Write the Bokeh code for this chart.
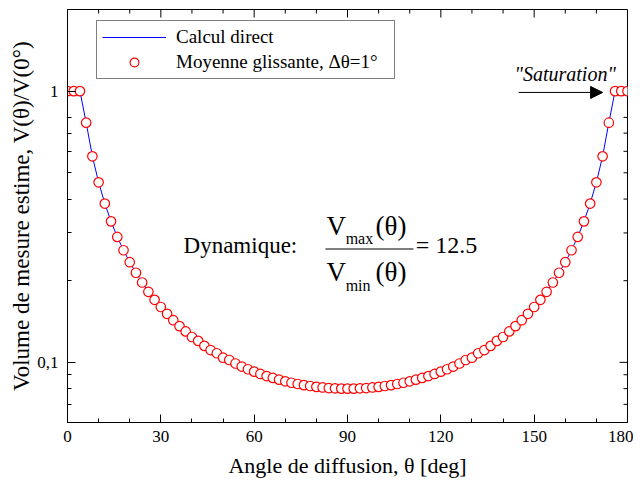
from bokeh.plotting import figure
from bokeh.models import FixedTicker, Label, Arrow, NormalHead, Legend, LegendItem, Range1d
from bokeh.embed import file_html
from bokeh.resources import INLINE
import math

# ---- data ----
theta = list(range(0, 181, 2))
volume = [1.0, 1.0, 1.0, 0.765, 0.575, 0.461, 0.385, 0.331, 0.290, 0.259,
          0.234, 0.214, 0.197, 0.182, 0.170, 0.160, 0.151, 0.143, 0.136, 0.130,
          0.124, 0.120, 0.115, 0.111, 0.108, 0.104, 0.102, 0.099, 0.0965, 0.0943,
          0.0924, 0.0906, 0.0890, 0.0876, 0.0863, 0.0851, 0.0841, 0.0832, 0.0824, 0.0818,
          0.0812, 0.0808, 0.0804, 0.0802, 0.0800, 0.0800,
          0.0800, 0.0802, 0.0804, 0.0808, 0.0812, 0.0818, 0.0824, 0.0832, 0.0841, 0.0851,
          0.0863, 0.0876, 0.0890, 0.0906, 0.0924, 0.0943, 0.0965, 0.099, 0.102, 0.104,
          0.108, 0.111, 0.115, 0.120, 0.124, 0.130, 0.136, 0.143, 0.151, 0.160,
          0.170, 0.182, 0.197, 0.214, 0.234, 0.259, 0.290, 0.331, 0.385, 0.461,
          0.575, 0.765, 1.0, 1.0, 1.0]

x_major = [0, 30, 60, 90, 120, 150, 180]
x_minor = [10, 20, 40, 50, 70, 80, 100, 110, 130, 140, 160, 170]
y_major = [0.1, 1]
y_minor = [0.07, 0.08, 0.09, 0.2, 0.3, 0.4, 0.5, 0.6, 0.7, 0.8]
y_labels = {0.1: "0,1", 1: "1"}

FONT = "Liberation Serif"
X0, X1, Y0, Y1 = 0, 180, 0.06, 2.0
FRAME_W, FRAME_H = 560, 413

p = figure(width=633, height=481, output_backend="svg", toolbar_location=None,
           y_axis_type="log", x_range=Range1d(X0, X1), y_range=Range1d(Y0, Y1),
           min_border_left=67, min_border_right=6, min_border_top=9, min_border_bottom=59,
           x_axis_label="Angle de diffusion, \u03b8 [deg]",
           y_axis_label="Volume de mesure estime, V(\u03b8)/V(0\u00b0)")
p.grid.visible = False
p.outline_line_color = "black"
p.outline_line_width = 1
p.background_fill_color = "white"
p.border_fill_color = "white"

def style_axis(ax):
    ax.axis_line_color = "black"
    ax.major_tick_line_color = "black"
    ax.minor_tick_line_color = "black"
    ax.major_tick_in = 8
    ax.major_tick_out = 0
    ax.minor_tick_in = 4
    ax.minor_tick_out = 0
    ax.major_label_text_font = FONT
    ax.major_label_text_font_size = "17px"
    ax.major_label_text_color = "black"
    ax.axis_label_text_font = FONT
    ax.axis_label_text_font_style = "normal"
    ax.axis_label_text_color = "black"

xa = p.xaxis[0]
xa.ticker = FixedTicker(ticks=x_major, minor_ticks=x_minor)
style_axis(xa)
xa.axis_label_text_font_size = "22px"
xa.major_label_standoff = 8
xa.axis_label_standoff = 8

ya = p.yaxis[0]
ya.ticker = FixedTicker(ticks=y_major, minor_ticks=y_minor)
ya.major_label_overrides = y_labels
style_axis(ya)
ya.axis_label_text_font_size = "23px"
ya.major_label_standoff = 9
ya.axis_label_standoff = 0

# mirrored tick marks on the top and right frame edges
dx_major = 8 * (X1 - X0) / FRAME_W
dx_minor = 4 * (X1 - X0) / FRAME_W
dec = (math.log10(Y1) - math.log10(Y0)) / FRAME_H
top_major_end = 10 ** (math.log10(Y1) - 8 * dec)
top_minor_end = 10 ** (math.log10(Y1) - 4 * dec)
p.segment(x0=x_major, y0=[Y1] * len(x_major), x1=x_major, y1=[top_major_end] * len(x_major),
          line_color="black", line_width=1)
p.segment(x0=x_minor, y0=[Y1] * len(x_minor), x1=x_minor, y1=[top_minor_end] * len(x_minor),
          line_color="black", line_width=1)
p.segment(x0=[X1] * len(y_major), y0=y_major, x1=[X1 - dx_major] * len(y_major), y1=y_major,
          line_color="black", line_width=1)
p.segment(x0=[X1] * len(y_minor), y0=y_minor, x1=[X1 - dx_minor] * len(y_minor), y1=y_minor,
          line_color="black", line_width=1)

line_r = p.line(theta, volume, line_color="#0000ff", line_width=1)
circ_r = p.scatter(theta, volume, marker="circle", size=9.5, line_color="#ff0000",
                   line_width=1.2, fill_color="white")

legend = Legend(items=[LegendItem(label="Calcul direct", renderers=[line_r]),
                       LegendItem(label="Moyenne glissante, \u0394\u03b8=1\u00b0", renderers=[circ_r])],
                location=(29, 343), margin=0, padding=5, spacing=3,
                glyph_width=64, glyph_height=22, label_height=22, label_width=213,
                label_standoff=10, label_text_font=FONT, label_text_font_size="19px",
                label_text_color="black", border_line_color="black", border_line_width=1,
                background_fill_color="white", background_fill_alpha=1.0)
p.add_layout(legend)

def lab(x, y, text, size, fstyle="normal"):
    p.add_layout(Label(x=x, y=y, text=text, text_font=FONT, text_font_size=size,
                       text_font_style=fstyle, text_color="black",
                       text_baseline="alphabetic", text_align="left"))

lab(37.3, 0.270, "Dynamique:", "23px")
lab(83.25, 0.318, "V", "27px")
lab(89.4, 0.285, "max", "16px")
lab(99.0, 0.318, "(\u03b8)", "27px")
lab(111.9, 0.270, "= 12.5", "24px")
lab(83.25, 0.2155, "V", "27px")
lab(89.4, 0.1915, "min", "16px")
lab(99.0, 0.2155, "(\u03b8)", "27px")
p.add_layout(Arrow(x_start=82.9, y_start=0.2617, x_end=111.2, y_end=0.2617,
                   end=None, line_color="#555555", line_width=1.5))

lab(143.7, 1.16, "\"Saturation\"", "20px", "italic")
p.add_layout(Arrow(x_start=145.0, y_start=0.989, x_end=172.0, y_end=0.989,
                   end=NormalHead(size=12, fill_color="black", line_color="black"),
                   line_color="black", line_width=1))

open("out.html", "w").write(file_html(p, INLINE))
